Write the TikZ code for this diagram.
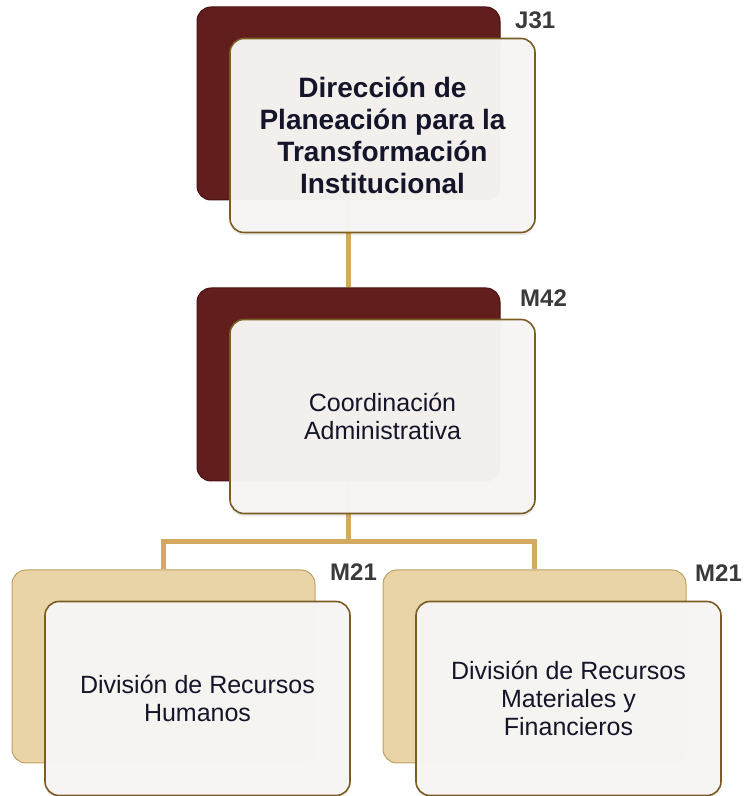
\documentclass[tikz,border=0pt]{standalone}
\usepackage{fontspec}
\setmainfont{Liberation Sans}
\usetikzlibrary{positioning, calc, shadows}
\definecolor{backRed}{HTML}{621D1D}
\definecolor{backRedStroke}{HTML}{4A1212}
\definecolor{backGold}{HTML}{E8D4A6}
\definecolor{backGoldStroke}{HTML}{BFA064}
\definecolor{frontFill}{HTML}{F8F6F4}
\definecolor{frontStroke}{HTML}{7A5C24}
\definecolor{linkGold}{HTML}{D2A95E}
\definecolor{codeGray}{HTML}{3A3A3A}
\definecolor{textInk}{HTML}{15152A}

\begin{document}
\begin{tikzpicture}[
    x=1pt, y=1pt,
    font=\fontsize{25}{28}\selectfont,
    backbox/.style={
        rectangle, rounded corners=14pt,
        minimum width=303pt, minimum height=193pt,
        inner sep=0pt, line width=1pt
    },
    redbox/.style={backbox, draw=backRedStroke, fill=backRed},
    goldbox/.style={backbox, draw=backGoldStroke, fill=backGold},
    front/.style={
        rectangle, rounded corners=14pt,
        draw=frontStroke, fill=frontFill,
        fill opacity=0.97, text opacity=1,
        drop shadow={opacity=0.15, shadow xshift=0pt, shadow yshift=-3pt},
        line width=1.6pt, align=center, text=textInk,
        minimum width=305pt, minimum height=194pt
    },
    code/.style={
        font=\bfseries\fontsize{24}{24}\selectfont,
        text=codeGray, anchor=west, inner sep=0pt
    },
    link/.style={draw=linkGold, line width=5pt}
]
    \useasboundingbox (0,0) rectangle (748,796);

    % back boxes
    \node[redbox] (dirB) at (348.5,692.5) {};
    \node[redbox, below=87pt of dirB] (coordB) {};
    \node[goldbox, below=88pt of coordB, xshift=-185pt] (rhB) {};
    \node[goldbox, below=88pt of coordB, xshift=186pt] (rmfB) {};

    % connectors
    \draw[link] (dirB.south) -- (coordB.north);
    \draw[link] (coordB.south) -- ++(0,-60) -| (rhB.north);
    \draw[link] (coordB.south) -- ++(0,-60) -| (rmfB.north);

    % front boxes
    \node[front, font=\bfseries\fontsize{28}{32}\selectfont] (dir) at ($(dirB)+(34,-32)$)
        {Dirección de\\Planeación para la\\Transformación\\Institucional};
    \node[front] (coord) at ($(coordB)+(34,-32)$) {Coordinación\\Administrativa};
    \node[front] (rh) at ($(rhB)+(34,-32)$) {División de Recursos\\Humanos};
    \node[front] (rmf) at ($(rmfB)+(34,-32)$) {División de Recursos\\Materiales y\\Financieros};

    % level codes
    \node[code] (dirCode) at (515,776) {J31};
    \node[code] (coordCode) at (520,498) {M42};
    \node[code] (rhCode) at (330,224) {M21};
    \node[code] (rmfCode) at (695,223) {M21};
\end{tikzpicture}
\end{document}
